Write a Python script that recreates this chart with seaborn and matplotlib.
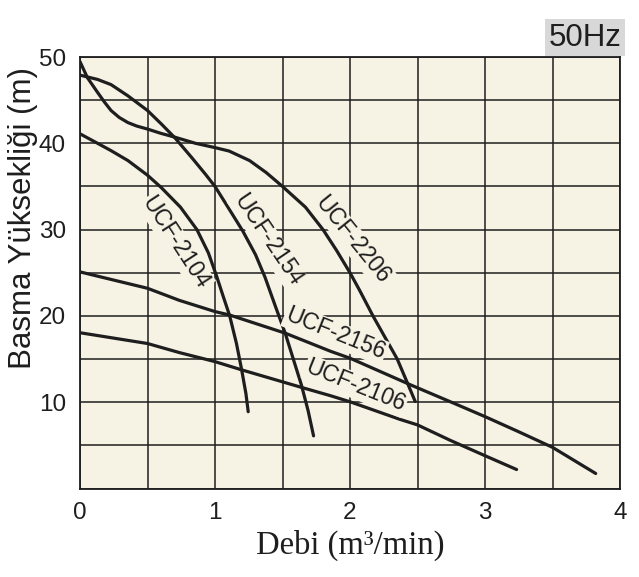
import numpy as np
import pandas as pd
import matplotlib
matplotlib.use("Agg")
import matplotlib.pyplot as plt
import seaborn as sns

# Pump curves (flow m3/min, head m)
q_2104 = [0, 0.13, 0.23, 0.355, 0.5, 0.6, 0.744, 0.866, 0.951, 1.012, 1.06, 1.109,
          1.159, 1.197, 1.229, 1.246]
h_2104 = [41.1, 40.0, 39.15, 38.0, 36.3, 34.9, 32.6, 30.0, 27.3, 24.6, 22.3, 20.0,
          16.8, 13.8, 11.0, 8.9]

q_2154 = [0, 0.13, 0.23, 0.355, 0.5, 0.605, 0.705, 0.83, 0.93, 1.0, 1.11, 1.207,
          1.30, 1.37, 1.45, 1.52, 1.58, 1.64, 1.69, 1.73]
h_2154 = [47.9, 47.4, 46.8, 45.5, 43.8, 42.2, 40.6, 38.3, 36.4, 35.0, 32.25, 29.8,
          27.1, 24.5, 21.0, 18.0, 15.0, 12.0, 9.0, 6.1]

q_2206 = [0, 0.055, 0.13, 0.18, 0.23, 0.29, 0.355, 0.42, 0.5, 0.6, 0.705, 0.855,
          1.0, 1.105, 1.256, 1.38, 1.5, 1.67, 1.80, 1.9, 2.0, 2.07, 2.17, 2.26,
          2.35, 2.426, 2.483]
h_2206 = [49.46, 47.6, 45.9, 44.8, 43.8, 43.0, 42.4, 42.0, 41.65, 41.15, 40.7, 40.0,
          39.5, 39.1, 38.0, 36.6, 35.0, 32.6, 30.0, 27.6, 25.0, 23.0, 20.0, 17.5,
          15.0, 12.2, 10.08]

q_2156 = [0, 0.5, 0.736, 1.0, 1.109, 1.52, 1.856, 2.0, 2.45, 2.766, 3.0, 3.246, 3.5, 3.82]
h_2156 = [25.1, 23.2, 21.8, 20.5, 20.1, 18.0, 15.9, 15.1, 12.0, 9.9, 8.33, 6.6, 4.77, 1.74]

q_2106 = [0, 0.5, 0.736, 1.0, 1.197, 1.644, 1.856, 2.0, 2.372, 2.5, 2.74, 3.0, 3.234]
h_2106 = [18.05, 16.8, 15.75, 14.7, 13.75, 11.7, 10.75, 10.05, 8.0, 7.37, 5.6, 3.8, 2.2]

curves = {
    "UCF-2104": (q_2104, h_2104),
    "UCF-2154": (q_2154, h_2154),
    "UCF-2206": (q_2206, h_2206),
    "UCF-2156": (q_2156, h_2156),
    "UCF-2106": (q_2106, h_2106),
}

# label placement (x, y, angle)
label_pos = {
    "UCF-2104": (0.71, 28.5, -57),
    "UCF-2154": (1.39, 28.8, -56),
    "UCF-2206": (2.02, 28.8, -51),
    "UCF-2156": (1.89, 17.9, -22),
    "UCF-2106": (2.04, 11.9, -22),
}

x_ticks = [0, 0.5, 1, 1.5, 2, 2.5, 3, 3.5, 4]
x_labels = ["0", "", "1", "", "2", "", "3", "", "4"]
y_ticks = [0, 5, 10, 15, 20, 25, 30, 35, 40, 45, 50]
y_labels = ["", "", "10", "", "20", "", "30", "", "40", "", "50"]

sns.set_theme(style="white")
plt.rcParams["font.family"] = ["Liberation Sans", "DejaVu Sans"]

bg = "#f6f2e4"
ink = "#1e1e1e"

fig = plt.figure(figsize=(6.39, 5.77), dpi=100)
ax = fig.add_axes([80 / 639, 88.5 / 577, 540 / 639, 431.5 / 577])
ax.set_facecolor(bg)

rows = []
for name, (q, h) in curves.items():
    for i, (a, b) in enumerate(zip(q, h)):
        rows.append({"model": name, "order": i, "q": a, "h": b})
df = pd.DataFrame(rows)

for name in curves:
    sub = df[df["model"] == name]
    sns.lineplot(data=sub, x="q", y="h", ax=ax, color=ink, linewidth=2.3,
                 sort=False, estimator=None, legend=False, zorder=3)

for name, (lx, ly, ang) in label_pos.items():
    ax.text(lx, ly, name, rotation=ang, rotation_mode="anchor",
            ha="center", va="center", fontsize=16.5, color=ink, zorder=4,
            bbox=dict(facecolor=bg, edgecolor="none", pad=1.0))

ax.set_xlim(0, 4)
ax.set_ylim(0, 50)
ax.set_xticks(x_ticks)
ax.set_xticklabels(x_labels, fontsize=17.5, color=ink)
ax.set_yticks(y_ticks)
ax.set_yticklabels(y_labels, fontsize=17.5, color=ink)
ax.tick_params(length=0, pad=10)
ax.grid(True, color=ink, linewidth=1.1, zorder=1)
ax.set_axisbelow(True)
for s in ax.spines.values():
    s.set_color(ink)
    s.set_linewidth(1.3)

ax.set_xlabel("Debi (m³/min)", fontsize=23.5, family=["Liberation Serif", "DejaVu Serif"],
              color=ink, labelpad=4)
ax.set_ylabel("Basma Yüksekliği (m)", fontsize=22.5, color=ink)
ax.yaxis.set_label_coords(-0.078, 0.627)

fig.text(585 / 639, 1 - 37.5 / 577, "50Hz", ha="center", va="center",
         fontsize=22.5, family=["Liberation Sans Narrow", "Liberation Sans"], color=ink,
         bbox=dict(facecolor="#d8d8d8", edgecolor="none",
                   boxstyle="square,pad=0.12"))

fig.savefig("out.png", dpi=100)
